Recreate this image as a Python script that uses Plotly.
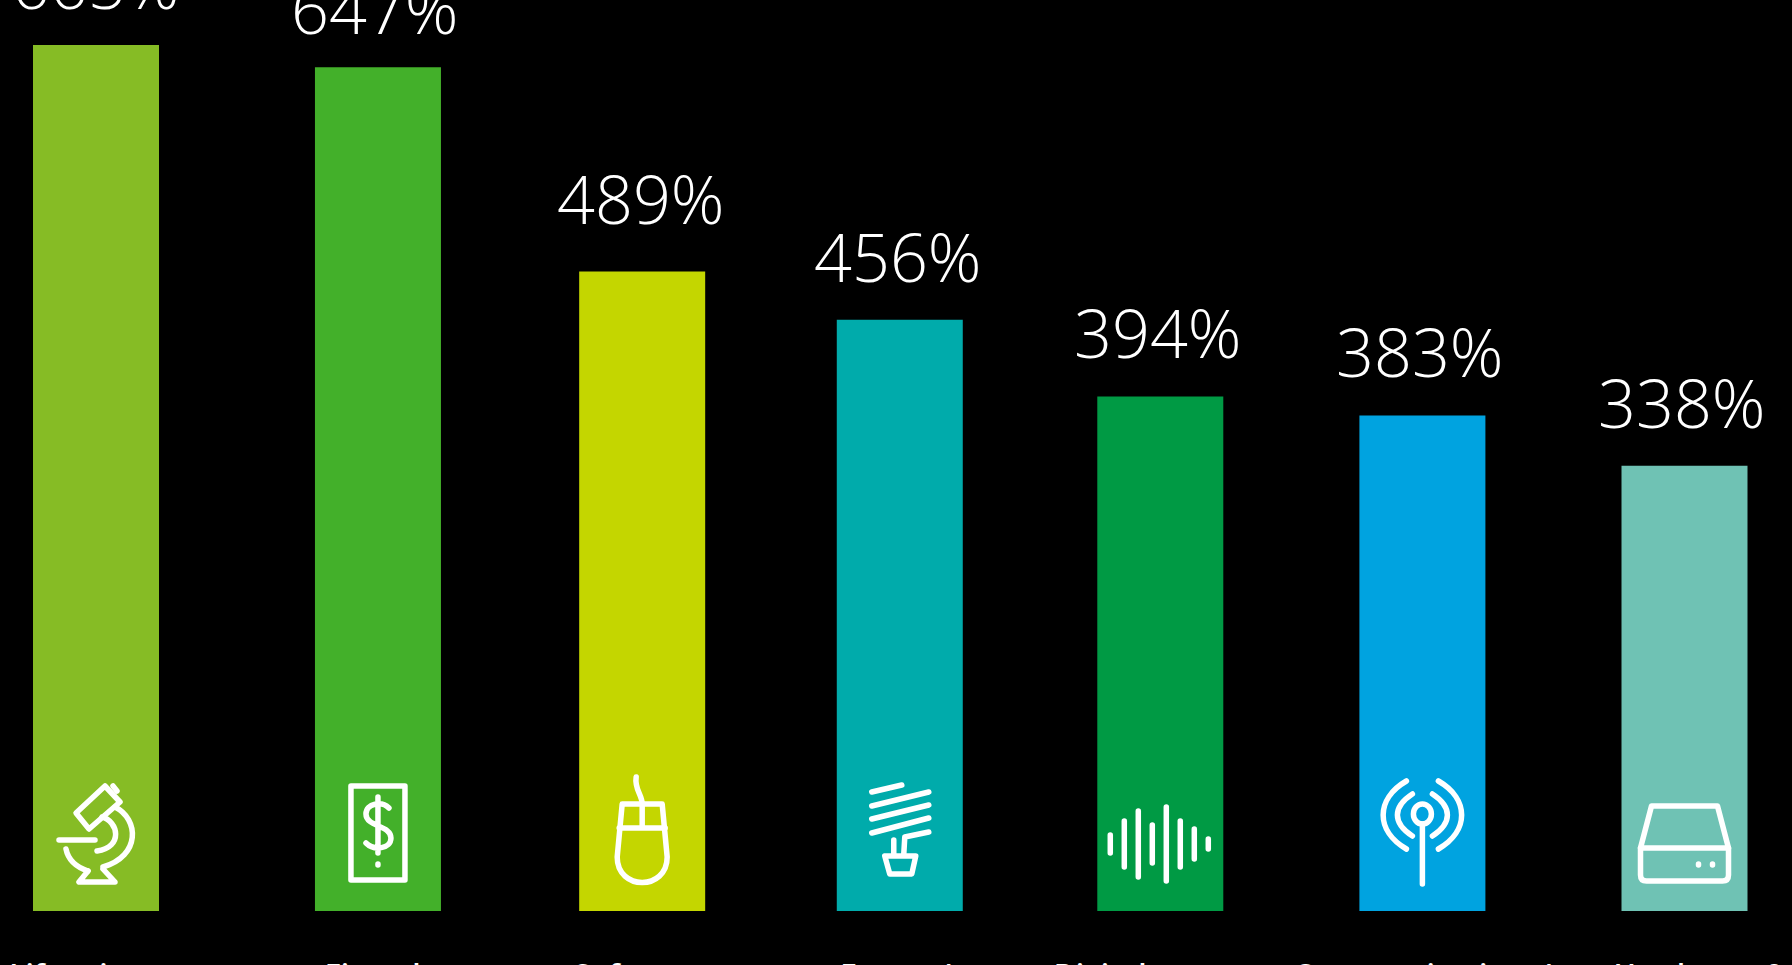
import re
import plotly.graph_objects as go

categories = ["Life sciences", "Fintech", "Software", "Energy/<br>cleantech",
              "Digital content", "Communications/<br>networking", "Hardware &amp;<br>peripherals"]
bar_values = [665, 648, 491, 454, 395, 380.5, 342]
labels = ["665%", "647%", "489%", "456%", "394%", "383%", "338%"]
colors = ["#86BC25", "#43B02A", "#C4D600", "#00ABAB", "#009A44", "#00A3E0", "#6FC2B4"]

# uneven spacing of the bars along the axis
slots = [0, 1.065, 2.063, 3.036, 4.02, 5.01, 6]
tick_slots = [0.015, 1.065, 2.05, 3.02, 4.02, 5.01, 6.06]

WIDTH, HEIGHT = 1792, 965
PLOT_B = 54
SLOT_PX = (1684.5 - 96) / 6
xmin = -96 / SLOT_PX
xmax = (1792 - 96) / SLOT_PX
PX_PER_PCT = 866 / 665
ymax = 911 / PX_PER_PCT

label_dx = [0, -3, -1, -2, -2, -2, -3]
label_gap = [36, 34, 48, 38, 39, 39, 38]

fig = go.Figure(go.Bar(x=slots, y=bar_values, width=126 / SLOT_PX,
                       marker=dict(color=colors, line=dict(width=0)),
                       hoverinfo="skip"))

annotations = []
for x, v, t, dx, g in zip(slots, bar_values, labels, label_dx, label_gap):
    annotations.append(dict(x=x, y=v, xref="x", yref="y", text=t, showarrow=False,
                            xanchor="center", yanchor="bottom", xshift=dx, yshift=g - 21.5,
                            font=dict(family="Open Sans", size=66.5, color="#FFFFFF", weight=300)))


def ring(cx, cy, rx, ry):
    k = 0.5523
    return (f"M {cx - rx} {cy} C {cx - rx} {cy + k * ry} {cx - k * rx} {cy + ry} {cx} {cy + ry} "
            f"C {cx + k * rx} {cy + ry} {cx + rx} {cy + k * ry} {cx + rx} {cy} "
            f"C {cx + rx} {cy - k * ry} {cx + k * rx} {cy - ry} {cx} {cy - ry} "
            f"C {cx - k * rx} {cy - ry} {cx - rx} {cy - k * ry} {cx - rx} {cy} Z")


# icon outlines in pixels around each bar's foot: x right of centre, y up from the baseline
icons = [
    ["M -20 98 L 9 125 L 24 109 L -7 82 Z",
     "M 17 125 L 21 120",
     "M -37 71 L -1 71",
     "M 6 94 C 22 90 28 64 1 60",
     "M 19 104 C 43 92 45 55 7 44",
     "M -30 62 C -28 52 -20 44 -8 40",
     "M -8 40 L -17 29 L 19 29 L 7 42"],
    ["M -27 31 L 27 31 L 27 125 L -27 125 Z",
     "M 0 114 L 0 58 M 11 103 C 4 110 -12 108 -12 97 C -12 84 13 86 13 73 C 13 62 -4 60 -12 68",
     "M 0 46 L 0 47"],
    ["M 0 107 C 0 116 -8 122 -6 134",
     "M -20 107 L 20 107 L 25 54 C 25 20 -25 20 -25 54 Z",
     "M -23 83 L 23 83 M 0 107 L 0 83"],
    ["M -28 119 L 2 126", "M -28 105 L 29 119", "M -28 92 L 29 106", "M -28 78 L 29 93",
     "M 29 79 L 5 74 L 4 57", "M -6 71 L -6 57", "M -15 55 L 16 55 L 12 37 L -10 37 Z"],
    [f"M {dx} {67 - h / 2} L {dx} {67 + h / 2}"
     for dx, h in zip([-50, -36, -22, -8, 6, 20, 34, 48], [18, 46, 66, 38, 74, 46, 30, 10])],
    ["M 0 27 L 0 87",
     ring(0, 97, 9, 10),
     "M -10 75 C -30 88 -30 104 -10 117", "M 10 75 C 30 88 30 104 10 117",
     "M -16 62 C -47 80 -47 112 -16 130", "M 16 62 C 47 80 47 112 16 130"],
    ["M -44 63 L -33 105 L 33 105 L 44 63 Z",
     "M -44 63 L -44 36 C -44 32 -42 30 -38 30 L 38 30 C 42 30 44 32 44 36 L 44 63",
     "M 14 46 L 14 47 M 28 46 L 28 47"],
]


def to_axis(path, slot):
    """Turn an icon outline from pixels into axis units at the given slot."""
    toks = re.findall(r"[A-Z]|-?\d+\.?\d*", path)
    out, i = [], 0
    while i < len(toks):
        if toks[i].isalpha():
            out.append(toks[i])
            i += 1
        else:
            out.append(f"{slot + float(toks[i]) / SLOT_PX:.4f}")
            out.append(f"{float(toks[i + 1]) / PX_PER_PCT:.3f}")
            i += 2
    return " ".join(out)


shapes = [dict(type="path", path=to_axis(p, slots[i]), xref="x", yref="y", layer="above",
               line=dict(color="#FFFFFF", width=5.5), fillcolor="rgba(0,0,0,0)")
          for i, paths in enumerate(icons) for p in paths]

fig.update_layout(
    width=WIDTH, height=HEIGHT, autosize=False,
    margin=dict(l=0, r=0, t=0, b=PLOT_B, pad=0),
    paper_bgcolor="#000000", plot_bgcolor="#000000", showlegend=False,
    annotations=annotations, shapes=shapes,
    xaxis=dict(range=[xmin, xmax], tickmode="array", tickvals=tick_slots, ticktext=categories,
               showgrid=False, zeroline=False, showline=False, ticks="", ticklabelstandoff=44,
               tickangle=0, automargin=False,
               tickfont=dict(family="Open Sans", size=30, color="#FFFFFF", weight=600)),
    yaxis=dict(range=[0, ymax], visible=False, showgrid=False, zeroline=False, automargin=False),
)
fig.write_html("out.html", config={"displayModeBar": False},
               post_script="document.body.style.margin='0';document.body.style.background='#000';"
                           "document.documentElement.style.overflow='hidden';"
                           "var st=document.createElement('style');"
                           "st.textContent='.shapelayer path{stroke-linecap:round;stroke-linejoin:round}';"
                           "document.head.appendChild(st);")
